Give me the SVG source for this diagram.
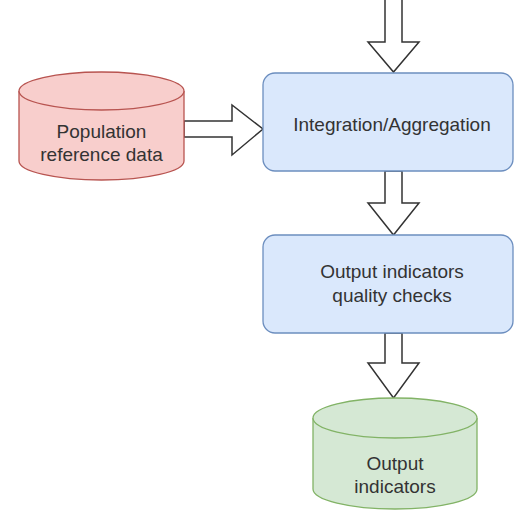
<svg xmlns="http://www.w3.org/2000/svg" width="514" height="510" viewBox="0 0 514 510">
<style>
.lbl{font-family:"Liberation Sans",Arial,sans-serif;font-size:19px;fill:#333333;text-anchor:middle}
.blue{fill:#dae8fc;stroke:#6c8ebf;stroke-width:1.3}
.red{fill:#f8cecc;stroke:#b85450;stroke-width:1.3}
.green{fill:#d5e8d4;stroke:#82b366;stroke-width:1.3}
.arr{fill:#ffffff;stroke:#333333;stroke-width:1.5;stroke-linejoin:miter}
</style>
<rect width="514" height="510" fill="#ffffff"/>
<g id="connectors">
<polygon class="arr" points="385,-2 402,-2 402,42 419,42 393.5,72 368,42 385,42"/>
<polygon class="arr" points="184,121 232,121 232,105 263,129 232,155 232,137 184,137"/>
<polygon class="arr" points="385,171 402,171 402,203 419,203 393.5,235 368,203 385,203"/>
<polygon class="arr" points="385,333 402,333 402,363 419,363 393.5,398 368,363 385,363"/>
</g>
<g id="integration">
<rect class="blue" x="263" y="73" width="250" height="98" rx="12" ry="12"/>
<text class="lbl" x="392" y="131">Integration/Aggregation</text>
</g>
<g id="quality">
<rect class="blue" x="263" y="235" width="250" height="98" rx="12" ry="12"/>
<text class="lbl" x="392" y="278">Output indicators</text>
<text class="lbl" x="392" y="302">quality checks</text>
</g>
<g id="population">
<path class="red" d="M19,91 A82.5,19 0 0 1 184,91 L184,161 A82.5,19 0 0 1 19,161 Z"/>
<path class="red" fill="none" d="M19,91 A82.5,19 0 0 0 184,91"/>
<text class="lbl" x="101.5" y="138">Population</text>
<text class="lbl" x="101.5" y="161">reference data</text>
</g>
<g id="output">
<path class="green" d="M313,418 A82,20 0 0 1 477,418 L477,489 A82,20 0 0 1 313,489 Z"/>
<path class="green" fill="none" d="M313,418 A82,20 0 0 0 477,418"/>
<text class="lbl" x="395" y="470">Output</text>
<text class="lbl" x="395" y="493">indicators</text>
</g>
</svg>
